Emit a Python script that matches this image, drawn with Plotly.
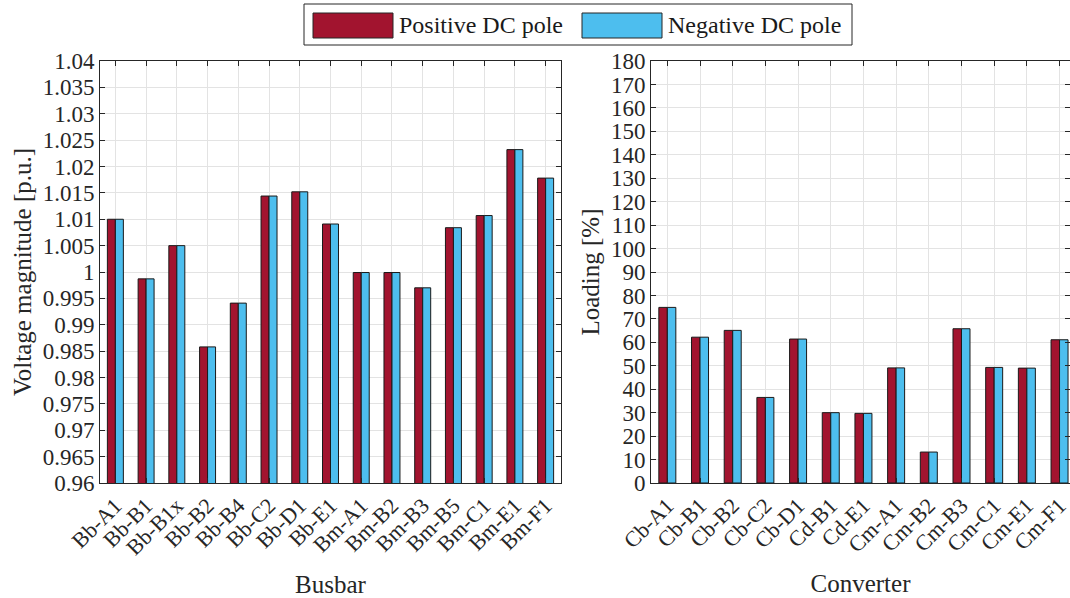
import plotly.graph_objects as go

W, H = 1070, 598

busbars = ["Bb-A1", "Bb-B1", "Bb-B1x", "Bb-B2", "Bb-B4", "Bb-C2", "Bb-D1", "Bb-E1",
           "Bm-A1", "Bm-B2", "Bm-B3", "Bm-B5", "Bm-C1", "Bm-E1", "Bm-F1"]
volt_pos = [1.0100, 0.9987, 1.0050, 0.9858, 0.9941, 1.0144, 1.0152, 1.0091,
            0.9999, 0.9999, 0.9970, 1.0084, 1.0107, 1.0232, 1.0178]
volt_neg = [1.0100, 0.9987, 1.0050, 0.9858, 0.9941, 1.0144, 1.0152, 1.0091,
            0.9999, 0.9999, 0.9970, 1.0084, 1.0107, 1.0232, 1.0178]

converters = ["Cb-A1", "Cb-B1", "Cb-B2", "Cb-C2", "Cb-D1", "Cd-B1", "Cd-E1",
              "Cm-A1", "Cm-B2", "Cm-B3", "Cm-C1", "Cm-E1", "Cm-F1"]
load_pos = [74.9, 62.2, 65.1, 36.5, 61.4, 30.0, 29.7, 49.1, 13.2, 65.8, 49.3, 49.0, 61.1]
load_neg = [74.9, 62.2, 65.1, 36.5, 61.4, 30.0, 29.7, 49.1, 13.2, 65.8, 49.3, 49.0, 61.1]

volt_ticks = [0.96, 0.965, 0.97, 0.975, 0.98, 0.985, 0.99, 0.995, 1.0,
              1.005, 1.01, 1.015, 1.02, 1.025, 1.03, 1.035, 1.04]
volt_ticktext = ["0.96", "0.965", "0.97", "0.975", "0.98", "0.985", "0.99", "0.995", "1",
                 "1.005", "1.01", "1.015", "1.02", "1.025", "1.03", "1.035", "1.04"]
load_ticks = list(range(0, 181, 10))

series_names = ["Positive DC pole", "Negative DC pole"]
RED = "#A2142F"
BLUE = "#4DBEEE"
FONT = "Liberation Serif"

fig = go.Figure()
fig.add_trace(go.Bar(x=busbars, y=volt_pos, name=series_names[0], marker=dict(color=RED, line=dict(color="#1a1a1a", width=1)),
                     xaxis="x", yaxis="y", showlegend=False))
fig.add_trace(go.Bar(x=busbars, y=volt_neg, name=series_names[1], marker=dict(color=BLUE, line=dict(color="#1a1a1a", width=1)),
                     xaxis="x", yaxis="y", showlegend=False))
fig.add_trace(go.Bar(x=converters, y=load_pos, name=series_names[0], marker=dict(color=RED, line=dict(color="#1a1a1a", width=1)),
                     xaxis="x2", yaxis="y2", showlegend=False))
fig.add_trace(go.Bar(x=converters, y=load_neg, name=series_names[1], marker=dict(color=BLUE, line=dict(color="#1a1a1a", width=1)),
                     xaxis="x2", yaxis="y2", showlegend=False))

def px_x(p):
    return p / W

def px_y(p):
    return 1 - p / H

axis_common = dict(
    showline=True, linecolor="#262626", linewidth=1, mirror="ticks",
    ticks="inside", ticklen=5, tickcolor="#262626",
    showgrid=True, gridcolor="#e3e3e3", gridwidth=1,
    tickfont=dict(family=FONT, size=22, color="#262626"),
    zeroline=False, automargin=False,
)

y_dom = [px_y(483), px_y(61)]

fig.update_layout(
    width=W, height=H,
    margin=dict(l=0, r=0, t=0, b=0),
    paper_bgcolor="white", plot_bgcolor="white",
    barmode="group", bargap=0.48, bargroupgap=0,
    font=dict(family=FONT, color="#262626"),
    xaxis=dict(axis_common, domain=[px_x(100), px_x(561)], anchor="y",
               type="category", range=[-0.5, 14.5], tickangle=-45,
               title=dict(text="Busbar", font=dict(family=FONT, size=25, color="#262626"), standoff=18)),
    yaxis=dict(axis_common, domain=y_dom, anchor="x", range=[0.96, 1.04],
               tickvals=volt_ticks, ticktext=volt_ticktext,
               tickfont=dict(family=FONT, size=23, color="#262626"),
               title=dict(text="Voltage magnitude [p.u.]", font=dict(family=FONT, size=25, color="#262626"), standoff=3)),
    xaxis2=dict(axis_common, domain=[px_x(651), 1.0], anchor="y2",
                type="category", range=[-0.5, 12.32], tickangle=-45,
                title=dict(text="Converter", font=dict(family=FONT, size=25, color="#262626"), standoff=18)),
    yaxis2=dict(axis_common, domain=y_dom, anchor="x2", range=[0, 180],
                tickvals=load_ticks,
                tickfont=dict(family=FONT, size=23, color="#262626"),
                title=dict(text="Loading [%]", font=dict(family=FONT, size=25, color="#262626"), standoff=4)),
)

# Custom legend (box, swatches, labels)
shapes = [
    dict(type="rect", xref="paper", yref="paper", x0=px_x(304), x1=px_x(852), y0=px_y(45), y1=px_y(4),
         line=dict(color="#262626", width=1), fillcolor="white", layer="above"),
    dict(type="rect", xref="paper", yref="paper", x0=px_x(313), x1=px_x(393), y0=px_y(38), y1=px_y(13),
         line=dict(color="#262626", width=1), fillcolor=RED),
    dict(type="rect", xref="paper", yref="paper", x0=px_x(582), x1=px_x(662), y0=px_y(38), y1=px_y(13),
         line=dict(color="#262626", width=1), fillcolor=BLUE),
]
annotations = [
    dict(text=series_names[0], xref="paper", yref="paper", x=px_x(397), y=px_y(25), xanchor="left", yanchor="middle",
         showarrow=False, font=dict(family=FONT, size=24, color="#1a1a1a")),
    dict(text=series_names[1], xref="paper", yref="paper", x=px_x(666), y=px_y(25), xanchor="left", yanchor="middle",
         showarrow=False, font=dict(family=FONT, size=24, color="#1a1a1a")),
]
fig.update_layout(shapes=shapes, annotations=annotations)

fig.write_html("out.html")
